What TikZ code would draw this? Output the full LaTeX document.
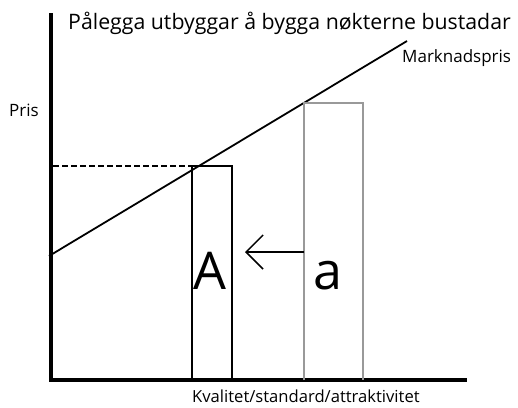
\documentclass[tikz,border=0pt]{standalone}
\usepackage{fontspec}
\setmainfont{Open Sans}
\usetikzlibrary{positioning,arrows.meta}

\begin{document}
\begin{tikzpicture}[x=1pt, y=-1pt, font=\fontsize{17}{19}\selectfont]
\useasboundingbox (0,0) rectangle (518,407);
% axes
\draw[line width=4.5pt, line join=miter] (51,13) -- (51,380) -- (467,380);
\node[anchor=base west, inner sep=0pt] (pris) at (9,116) {Pris};
\node[anchor=base west, inner sep=0pt, font=\fontsize{16.6}{19}\selectfont] (kval) at (192,402) {Kvalitet/standard/attraktivitet};
\node[anchor=base west, inner sep=0pt, font=\fontsize{21.3}{23}\selectfont] (title) at (68,29) {Pålegga utbyggar å bygga nøkterne bustadar};
% market price line
\draw[line width=1.8pt] (49,256) -- (407,41);
\node[anchor=base west, inner sep=0pt] (mp) at (402,62) {Marknadspris};
% price level
\draw[line width=1.4pt, dash pattern=on 6pt off 3pt] (53,166) -- (192,166);
% regulated box A
\draw[line width=1.6pt] (192,380) -- (192,166) -- (232,166) -- (232,380);
\node[anchor=base, font=\fontsize{52}{56}\selectfont, inner sep=0pt] (A) at (210,289) {A};
% market box a
\draw[gray!80, line width=1.1pt] (304,380) -- (304,103) -- (363,103) -- (363,380);
\node[anchor=base, font=\fontsize{52}{56}\selectfont, inner sep=0pt] (a) at (328,289) {a};
% shift
\coordinate (tail) at (304,252);
\coordinate (head) at (245,252);
\draw[line width=1.5pt, -{Straight Barb[length=17pt, width=34pt, line width=1.5pt]}] (tail) -- (head);
\end{tikzpicture}
\end{document}
